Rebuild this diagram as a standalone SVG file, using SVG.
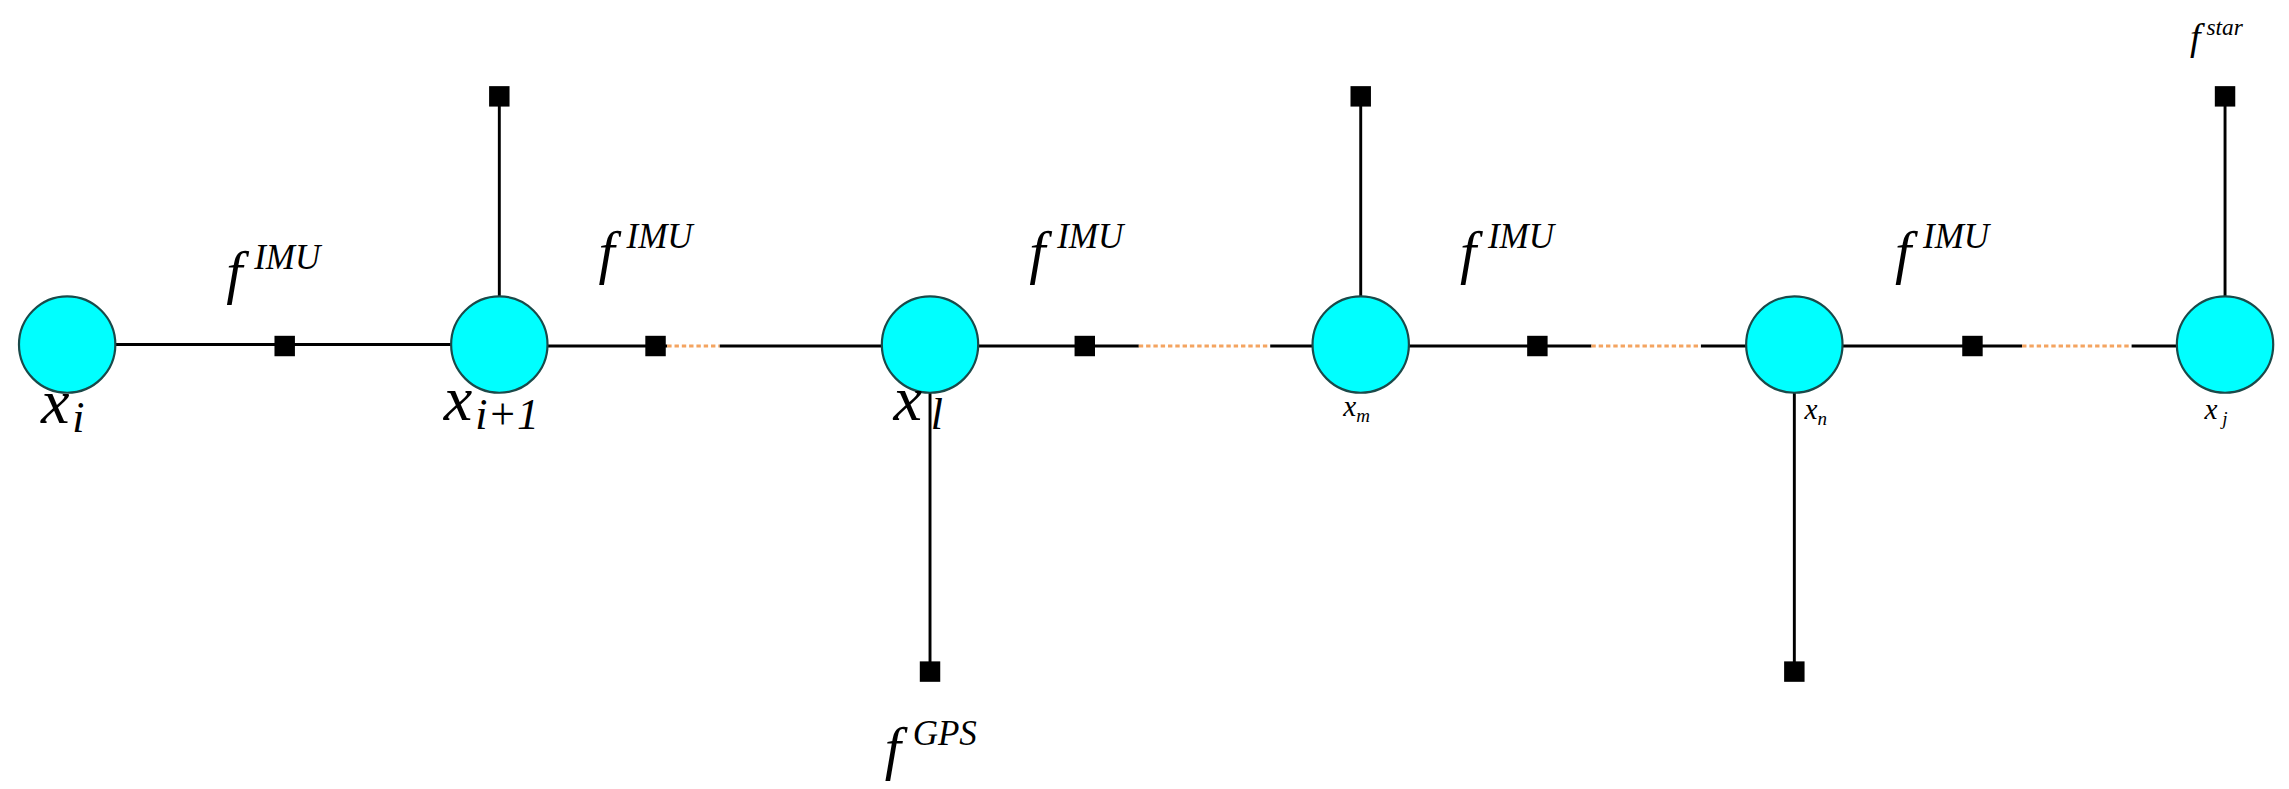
<svg xmlns="http://www.w3.org/2000/svg" width="2289" height="789" viewBox="0 0 2289 789">
<style>
.n{fill:#00FFFF;stroke:#1a4a4a;stroke-width:1.5}
.f{fill:#000}
.l{stroke:#000;stroke-width:2;fill:none}
.d{stroke:#F4A460;stroke-width:2;stroke-dasharray:3 2;fill:none}
.t{font-family:"Liberation Serif",serif;font-style:italic;fill:#000}
</style>
<rect width="2289" height="789" fill="#fff"/>
<g transform="scale(1.46)">
<g id="connectors">
<line class="l" x1="46" y1="236" x2="342" y2="236"/>
<line class="l" x1="342" y1="237" x2="457" y2="237"/>
<line class="d" x1="457" y1="237" x2="493" y2="237"/>
<line class="l" x1="493" y1="237" x2="780" y2="237"/>
<line class="d" x1="780" y1="237" x2="870" y2="237"/>
<line class="l" x1="870" y1="237" x2="1090" y2="237"/>
<line class="d" x1="1090" y1="237" x2="1165" y2="237"/>
<line class="l" x1="1165" y1="237" x2="1385" y2="237"/>
<line class="d" x1="1385" y1="237" x2="1460" y2="237"/>
<line class="l" x1="1460" y1="237" x2="1524" y2="237"/>
<line class="l" x1="342" y1="66" x2="342" y2="236"/>
<line class="l" x1="932" y1="66" x2="932" y2="236"/>
<line class="l" x1="1524" y1="66" x2="1524" y2="236"/>
<line class="l" x1="637" y1="236" x2="637" y2="460"/>
<line class="l" x1="1229" y1="236" x2="1229" y2="460"/>
</g>
<g id="factors">
<rect class="f" x="188" y="230" width="14" height="14"/>
<rect class="f" x="442" y="230" width="14" height="14"/>
<rect class="f" x="736" y="230" width="14" height="14"/>
<rect class="f" x="1046" y="230" width="14" height="14"/>
<rect class="f" x="1344" y="230" width="14" height="14"/>
<rect class="f" x="335" y="59" width="14" height="14"/>
<rect class="f" x="925" y="59" width="14" height="14"/>
<rect class="f" x="1517" y="59" width="14" height="14"/>
<rect class="f" x="630" y="453" width="14" height="14"/>
<rect class="f" x="1222" y="453" width="14" height="14"/>
</g>
<g id="node-xi"><circle class="n" cx="46" cy="236" r="33"/><text class="t" x="28" y="290" font-size="44">x<tspan font-size="30" dy="6" dx="2">i</tspan></text></g>
<g id="node-xi1"><circle class="n" cx="342" cy="236" r="33"/><text class="t" x="304" y="288" font-size="44">x<tspan font-size="30" dy="6" dx="2">i+1</tspan></text></g>
<g id="node-xl"><circle class="n" cx="637" cy="236" r="33"/><text class="t" x="612" y="288" font-size="44">x<tspan font-size="30" dy="6" dx="6">l</tspan></text></g>
<g id="node-xm"><circle class="n" cx="932" cy="236" r="33"/><text class="t" x="920" y="285" font-size="20">x<tspan font-size="13" dy="4">m</tspan></text></g>
<g id="node-xn"><circle class="n" cx="1229" cy="236" r="33"/><text class="t" x="1236" y="287" font-size="20">x<tspan font-size="13" dy="4">n</tspan></text></g>
<g id="node-xj"><circle class="n" cx="1524" cy="236" r="33"/><text class="t" x="1510" y="287" font-size="20">x<tspan font-size="13" dy="4"> j</tspan></text></g>
<g id="labels">
<text class="t" x="155" y="200" font-size="40">f<tspan font-size="24" dy="-16" dx="8">IMU</tspan></text>
<text class="t" x="410" y="186" font-size="40">f<tspan font-size="24" dy="-16" dx="8">IMU</tspan></text>
<text class="t" x="705" y="186" font-size="40">f<tspan font-size="24" dy="-16" dx="8">IMU</tspan></text>
<text class="t" x="1000" y="186" font-size="40">f<tspan font-size="24" dy="-16" dx="8">IMU</tspan></text>
<text class="t" x="1298" y="186" font-size="40">f<tspan font-size="24" dy="-16" dx="8">IMU</tspan></text>
<text class="t" x="606" y="526" font-size="40">f<tspan font-size="24" dy="-16" dx="8">GPS</tspan></text>
<text class="t" x="1500" y="34" font-size="26">f<tspan font-size="16" dy="-10" dx="4">star</tspan></text>
</g>
</g>
</svg>
